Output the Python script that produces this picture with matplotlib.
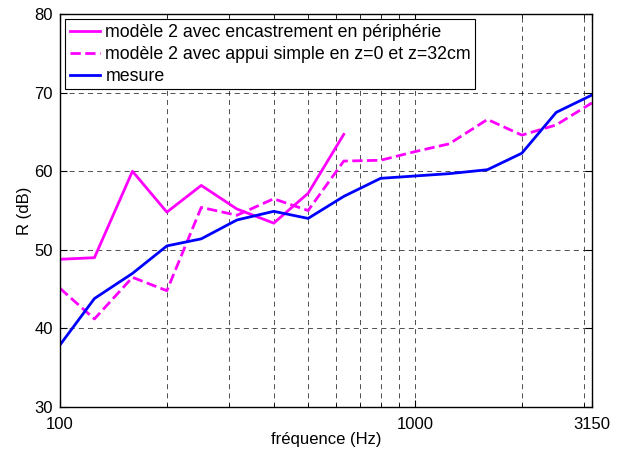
import matplotlib
matplotlib.use("Agg")
import matplotlib.pyplot as plt
from matplotlib.ticker import FixedLocator, NullFormatter

plt.rcParams['font.family'] = ['Liberation Sans', 'DejaVu Sans']

# third-octave bands
freq = [100, 125, 160, 200, 250, 315, 400, 500, 630, 800, 1000, 1250, 1600, 2000, 2500, 3150]
r_encastrement = [48.8, 49.0, 60.0, 54.8, 58.2, 55.2, 53.4, 57.2, 64.7]
r_appui = [45.1, 41.2, 46.5, 44.8, 55.4, 54.4, 56.5, 55.0, 61.3, 61.4, 62.5, 63.5, 66.6, 64.6, 65.9, 68.7]
r_mesure = [37.9, 43.8, 47.0, 50.5, 51.4, 53.8, 54.9, 54.0, 56.8, 59.1, 59.4, 59.7, 60.2, 62.3, 67.5, 69.7]

fig = plt.figure(figsize=(6.25, 4.5), dpi=100)
ax = fig.add_axes([0.096, 0.0956, 0.851, 0.873])

ax.semilogx(freq[:len(r_encastrement)], r_encastrement, '-', color='#ff00ff', lw=2,
            label='modèle 2 avec encastrement en périphérie')
ax.semilogx(freq, r_appui, '--', color='#ff00ff', lw=2,
            label='modèle 2 avec appui simple en z=0 et z=32cm')
ax.semilogx(freq, r_mesure, '-', color='#0000ff', lw=2, label='mesure')

ax.set_xlim(100, 3150)
ax.set_ylim(30, 80)
ax.xaxis.set_major_locator(FixedLocator([100, 1000, 3150]))
ax.set_xticklabels(['100', '1000', '3150'])
ax.xaxis.set_minor_locator(FixedLocator([200, 300, 400, 500, 600, 700, 800, 900, 2000, 3000]))
ax.xaxis.set_minor_formatter(NullFormatter())
ax.set_yticks(range(30, 81, 10))

ax.grid(True, which='both', color='black', linestyle=(0, (6, 5)), linewidth=0.6, alpha=0.8)
ax.tick_params(which='both', direction='in', top=True, right=True, labelsize=12)
ax.tick_params(axis='x', pad=7)
ax.tick_params(axis='y', pad=5)
ax.tick_params(which='major', length=5)
ax.tick_params(which='minor', length=3)
for s in ax.spines.values():
    s.set_linewidth(1)

ax.set_xlabel('fréquence (Hz)', fontsize=12, labelpad=0)
ax.set_ylabel('R (dB)', fontsize=12, labelpad=2)

leg = ax.legend(loc='upper left', fontsize=12.8, fancybox=False, framealpha=1,
                edgecolor='black', borderaxespad=0.3, handlelength=1.7,
                handletextpad=0.3, labelspacing=0.28, borderpad=0.25)
leg.get_frame().set_linewidth(0.8)

fig.savefig('out.png', dpi=100)
